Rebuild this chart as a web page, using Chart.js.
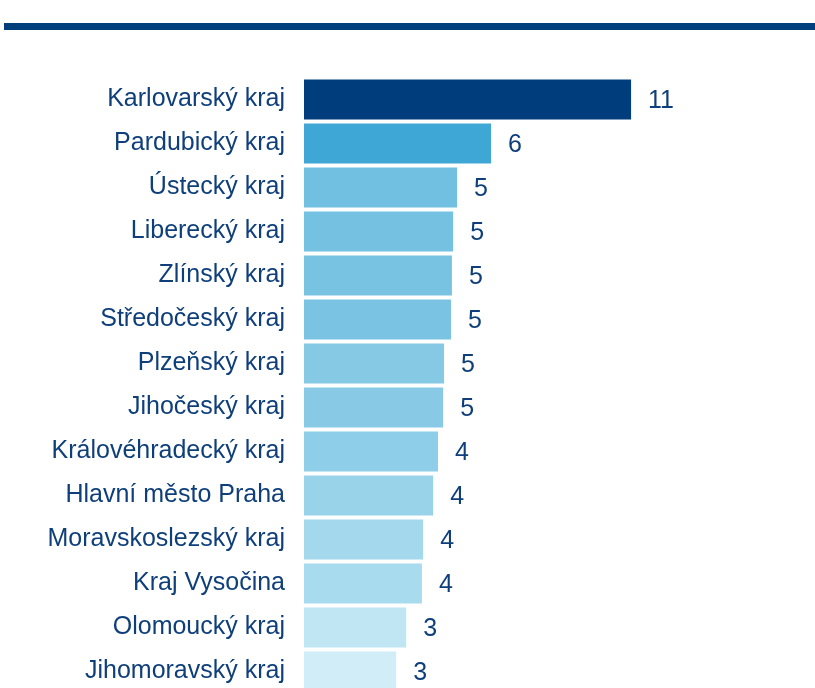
<!DOCTYPE html>
<html>
<head>
<meta charset="utf-8">
<script src="https://cdn.jsdelivr.net/npm/chart.js@4.4.1/dist/chart.umd.min.js"></script>
<style>
  html, body { margin: 0; padding: 0; background: #fff; }
  body { width: 815px; height: 688px; overflow: hidden; position: relative; }
  #topline { position: absolute; left: 4px; right: 0; top: 23px; height: 7px; background: #003e7c; }
  #chart { position: absolute; left: 0; top: 0; }
</style>
</head>
<body>
<div id="topline"></div>
<canvas id="chart" width="815" height="700"></canvas>
<script>
// kraje seřazené podle hodnoty
const regions = [
    'Karlovarský kraj', 'Pardubický kraj', 'Ústecký kraj', 'Liberecký kraj',
    'Zlínský kraj', 'Středočeský kraj', 'Plzeňský kraj', 'Jihočeský kraj',
    'Královéhradecký kraj', 'Hlavní město Praha', 'Moravskoslezský kraj',
    'Kraj Vysočina', 'Olomoucký kraj', 'Jihomoravský kraj'
];
const values = [10.79, 6.17, 5.05, 4.92, 4.88, 4.85, 4.62, 4.59, 4.42, 4.26, 3.93, 3.89, 3.37, 3.04];
const barColors = [
    '#003d7c', '#3ea7d6', '#71bfe1', '#75c1e2', '#78c2e2', '#7bc3e3', '#85c9e5',
    '#88cae6', '#8fcee8', '#98d3ea', '#a3d8ed', '#a8dbee', '#c0e6f4', '#d0edf8'
];

const textColor = '#0f3f7a';
const font = { family: '"Liberation Sans", Arial, sans-serif', size: 25 };

// popisky hodnot za koncem sloupce
const valueLabels = {
    id: 'valueLabels',
    afterDatasetsDraw(chart) {
        const ctx = chart.ctx;
        const meta = chart.getDatasetMeta(0);
        ctx.save();
        ctx.font = font.size + 'px ' + font.family;
        ctx.fillStyle = textColor;
        ctx.textAlign = 'left';
        ctx.textBaseline = 'middle';
        meta.data.forEach((bar, i) => {
            ctx.fillText(String(Math.round(values[i])), bar.x + 17, bar.y + 2);
        });
        ctx.restore();
    }
};

new Chart(document.getElementById('chart'), {
    type: 'bar',
    data: {
        labels: regions,
        datasets: [{
            data: values,
            backgroundColor: barColors,
            borderWidth: 0,
            categoryPercentage: 1,
            barPercentage: 0.91
        }]
    },
    options: {
        indexAxis: 'y',
        responsive: false,
        animation: false,
        layout: { padding: { top: 77.5, bottom: 6.5, left: 0, right: 26 } },
        plugins: { legend: { display: false }, tooltip: { enabled: false } },
        scales: {
            x: { display: false, min: 0, max: 16 },
            y: {
                grid: { display: false, drawTicks: false, tickLength: 0 },
                border: { display: false },
                ticks: { color: textColor, font, padding: 19, autoSkip: false },
                afterFit(scale) {
                    scale.width = 304;
                    scale.paddingTop = 0;
                    scale.paddingBottom = 0;
                }
            }
        }
    },
    plugins: [valueLabels]
});
</script>
</body>
</html>
